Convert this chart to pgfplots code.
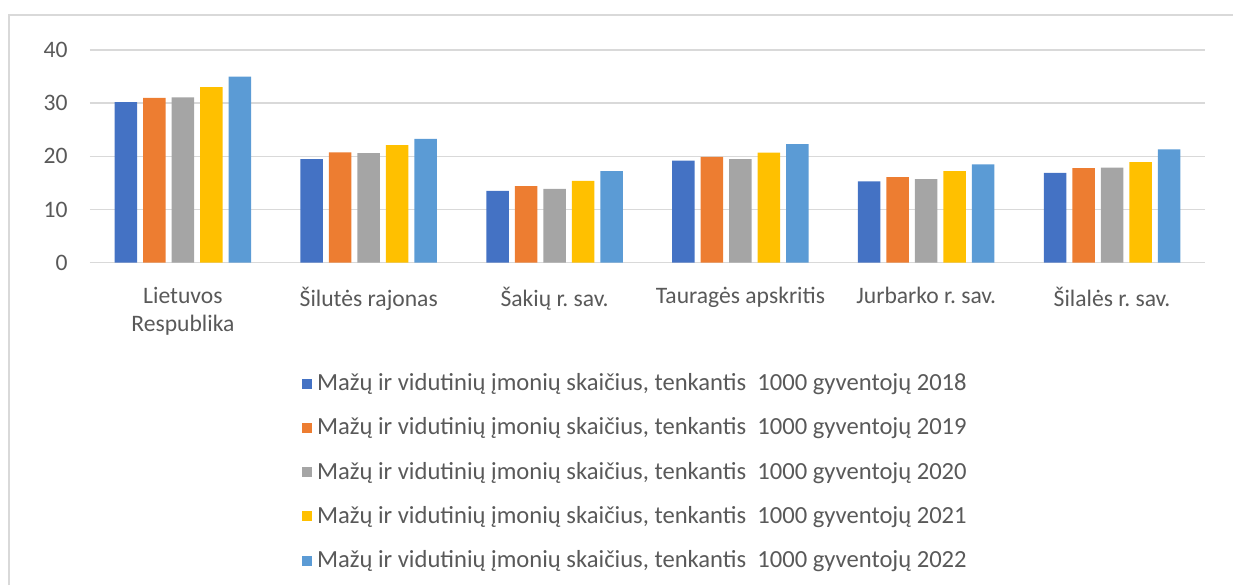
\documentclass[border=0pt]{standalone}
\usepackage{fontspec}
\setmainfont{Carlito}
\usepackage{pgfplots}
\pgfplotsset{compat=1.18}
\frenchspacing
\definecolor{c1}{HTML}{4472C4}
\definecolor{c2}{HTML}{ED7D31}
\definecolor{c3}{HTML}{A5A5A5}
\definecolor{c4}{HTML}{FFC000}
\definecolor{c5}{HTML}{5B9BD5}
\definecolor{gridc}{HTML}{D9D9D9}
\definecolor{txt}{HTML}{595959}
\begin{document}
\begin{tikzpicture}
\useasboundingbox (0,0) rectangle (616.5pt,292.5pt);
\draw[gridc, line width=0.75pt] (4.5pt,0) -- (4.5pt,285pt) -- (616.5pt,285pt);
\begin{axis}[
  at={(45pt,161.15pt)}, anchor=south west,
  scale only axis, width=557.5pt, height=106.35pt,
  ybar=3pt, bar width=11.25pt,
  xmin=-0.5, xmax=5.5, ymin=0, ymax=40,
  xtick=data,
  xticklabels={{Lietuvos\\Respublika},{Šilutės rajonas},{Šakių r. sav.},{Tauragės apskritis},{Jurbarko r. sav.},{Šilalės r. sav.}},
  ytick={0,10,20,30,40},
  ymajorgrids, grid style={gridc, line width=0.75pt},
  axis line style={draw=none},
  major tick length=0pt,
  tick label style={font=\fontsize{11.8}{14}\selectfont, text=txt},
  /pgf/number format/assume math mode=true,
  xticklabel style={align=center, anchor=north, inner sep=0pt, yshift=-12pt},
  yticklabel style={anchor=east, inner sep=0pt, xshift=-11pt},
  legend style={at={(0.190,-0.525)}, anchor=north west, draw=none, fill=none,
    inner sep=0pt, row sep=11.1pt, column sep=2.4pt,
    font=\fontsize{12.3}{14}\selectfont, text=txt,
    nodes={inner sep=0pt, text height=8pt, text depth=3pt}},
  legend cell align=left,
  legend image code/.code={\fill[#1] (0pt,-1.5pt) rectangle (5pt,3.5pt);},
]
\addplot[fill=c1, draw=none] coordinates {(0,30.2) (1,19.5) (2,13.5) (3,19.2) (4,15.3) (5,16.9)};
\addplot[fill=c2, draw=none] coordinates {(0,31.0) (1,20.75) (2,14.4) (3,19.9) (4,16.1) (5,17.8)};
\addplot[fill=c3, draw=none] coordinates {(0,31.1) (1,20.6) (2,13.9) (3,19.5) (4,15.7) (5,17.9)};
\addplot[fill=c4, draw=none] coordinates {(0,33.0) (1,22.1) (2,15.4) (3,20.7) (4,17.2) (5,18.9)};
\addplot[fill=c5, draw=none] coordinates {(0,35.0) (1,23.3) (2,17.2) (3,22.3) (4,18.5) (5,21.3)};
\legend{{Mažų ir vidutinių įmonių skaičius, tenkantis~ 1000 gyventojų 2018},
{Mažų ir vidutinių įmonių skaičius, tenkantis~ 1000 gyventojų 2019},
{Mažų ir vidutinių įmonių skaičius, tenkantis~ 1000 gyventojų 2020},
{Mažų ir vidutinių įmonių skaičius, tenkantis~ 1000 gyventojų 2021},
{Mažų ir vidutinių įmonių skaičius, tenkantis~ 1000 gyventojų 2022}}
\end{axis}
\end{tikzpicture}
\end{document}
